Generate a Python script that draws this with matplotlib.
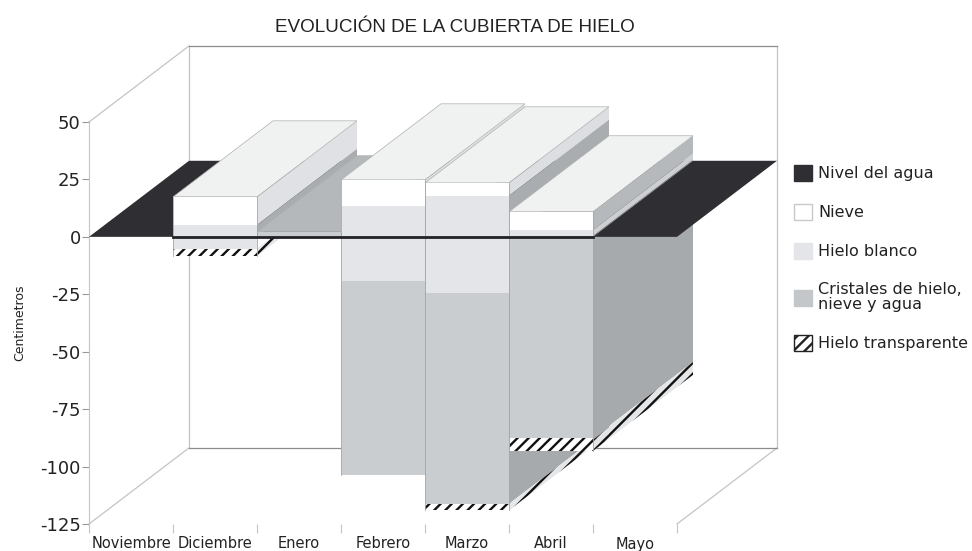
import matplotlib
matplotlib.use('Agg')
import matplotlib.pyplot as plt
from matplotlib.patches import Patch, Polygon

plt.rcParams['hatch.linewidth'] = 1.7

months = ['Noviembre', 'Diciembre', 'Enero', 'Febrero', 'Marzo', 'Abril', 'Mayo']
y_ticks = [50, 25, 0, -25, -50, -75, -100, -125]

# bar slot (month index), then layer limits from top to bottom, cm
slots = [1, 2, 3, 4, 5]
nieve_top = [17.4, 2.2, 24.8, 23.5, 10.9]
hielo_top = [5.2, 2.2, 13.5, 17.9, 3.0]
cristal_top = [-5.2, 2.2, -19.2, -24.4, 0.4]
transp_top = [-5.2, 0.0, -103.7, -116.2, -87.6]
bottom = [-8.3, 0.0, -103.7, -119.0, -93.2]

# oblique depth of the box, in month and cm units
DX = 100 / 84
DY = 76 / 2.295

C_WATER = '#2e2e33'
C_LINE = '#c4c4c4'
C_TOP = '#f0f1f1'
C_ENERO_TOP = '#b4b8ba'
C_HATCH_SIDE = '#e4e6e8'
FRONT_NIEVE = '#ffffff'
FRONT_HIELO = '#e3e5e8'
FRONT_CRISTAL = '#c9cdd0'
SIDE_CRISTAL = '#a7aaad'
side_nieve = ['#dfe1e4', '#dfe1e4', '#dfe1e4', '#dcdee1', '#b6b9bb']
side_hielo = ['#a9adaf', '#a9adaf', '#c8cbcd', '#a9adaf', '#cdcfd1']


def make_poly(ax, pts, color, z, hatch=None):
    # hatch takes its colour from the edge, lw 0 keeps the border off
    ec = '#111111' if hatch else 'none'
    ax.add_patch(Polygon(pts, fc=color, ec=ec, lw=0, hatch=hatch, clip_on=False, zorder=z))


def front(ax, x, top, low, color, z, hatch=None):
    make_poly(ax, [(x, top), (x + 1, top), (x + 1, low), (x, low)], color, z, hatch)


def side(ax, x, top, low, color, z, hatch=None):
    make_poly(ax, [(x, top), (x + DX, top + DY), (x + DX, low + DY), (x, low)], color, z, hatch)


def top_face(ax, x, top, color, z):
    ax.add_patch(Polygon([(x, top), (x + 1, top), (x + 1 + DX, top + DY), (x + DX, top + DY)],
                         fc=color, ec='#b0b0b0', lw=0.5, clip_on=False, zorder=z))


fig = plt.figure(figsize=(9.72, 5.51), dpi=100)
ax = fig.add_axes([89 / 972, (551 - 524) / 551, 588 / 972, 402 / 551])
ax.set_xlim(0, 7)
ax.set_ylim(-125, 50)
ax.patch.set_visible(False)

# box walls and floor
wall = dict(color=C_LINE, lw=0.9, clip_on=False, zorder=1)
ax.plot([0, DX], [50, 50 + DY], **wall)
ax.plot([0, DX], [-125, -125 + DY], **wall)
ax.plot([7, 7 + DX], [-125, -125 + DY], **wall)
ax.plot([DX, DX], [-125 + DY, 50 + DY], **wall)
ax.plot([7 + DX, 7 + DX], [-125 + DY, 50 + DY], **wall)
ax.plot([DX, 7 + DX], [-125 + DY, -125 + DY], color='#8c8c8c', lw=0.9, clip_on=False, zorder=1)
ax.plot([DX, 7 + DX], [50 + DY, 50 + DY], color='#8c8c8c', lw=0.9, clip_on=False, zorder=1)

# everything under the water first, then the water sheet, then what is above it
for i in range(len(slots) - 1, -1, -1):
    x = slots[i]
    z = 4 + (5 - i) * 0.01
    low_c = min(cristal_top[i], 0)
    if low_c > transp_top[i]:
        side(ax, x + 1, low_c, transp_top[i], SIDE_CRISTAL, z)
    if transp_top[i] > bottom[i]:
        side(ax, x + 1, transp_top[i], bottom[i], C_HATCH_SIDE, z, hatch='///')

make_poly(ax, [(0, 0), (7, 0), (7 + DX, DY), (DX, DY)], C_WATER, 5)

for i in range(len(slots)):
    x = slots[i]
    z = 6 + i * 0.1
    if nieve_top[i] > hielo_top[i]:
        side(ax, x + 1, nieve_top[i], hielo_top[i], side_nieve[i], z)
    if hielo_top[i] > max(cristal_top[i], 0):
        side(ax, x + 1, hielo_top[i], max(cristal_top[i], 0), side_hielo[i], z)
    if cristal_top[i] > 0:
        side(ax, x + 1, cristal_top[i], 0, SIDE_CRISTAL, z)

for i in range(len(slots)):
    x = slots[i]
    z = 8 + i * 0.1
    color = C_ENERO_TOP if nieve_top[i] < 3 else C_TOP
    top_face(ax, x, nieve_top[i], color, z)

for i in range(len(slots)):
    x = slots[i]
    z = 10
    if nieve_top[i] > hielo_top[i]:
        front(ax, x, nieve_top[i], hielo_top[i], FRONT_NIEVE, z)
    if hielo_top[i] > cristal_top[i]:
        front(ax, x, hielo_top[i], cristal_top[i], FRONT_HIELO, z)
    if cristal_top[i] > transp_top[i]:
        front(ax, x, cristal_top[i], transp_top[i], FRONT_CRISTAL, z)
    if transp_top[i] > bottom[i]:
        front(ax, x, transp_top[i], bottom[i], '#ffffff', z, hatch='///')
    # bar borders
    ax.plot([x, x], [bottom[i], nieve_top[i]], color='#a8a8a8', lw=0.6, clip_on=False, zorder=11)
    ax.plot([x + 1, x + 1], [bottom[i], nieve_top[i]], color='#a8a8a8', lw=0.6, clip_on=False, zorder=11)

ax.plot([1, 6], [0, 0], color='#222226', lw=2, clip_on=False, zorder=12)

ax.spines[['top', 'right', 'bottom']].set_visible(False)
ax.spines['left'].set_color(C_LINE)
ax.spines['left'].set_bounds(-125, 50)
ax.set_yticks(y_ticks)
ax.set_yticklabels(y_ticks, fontsize=13, color='#222222')
ax.tick_params(axis='y', length=5, width=0.8, color='#999999', pad=1)
ax.set_xticks(range(8))
ax.set_xticklabels([])
ax.set_xticks([i + 0.5 for i in range(7)], minor=True)
ax.set_xticklabels(months, minor=True, fontsize=10.5, color='#222222')
ax.tick_params(axis='x', which='major', length=6.5, width=0.8, color=C_LINE, pad=2)
ax.tick_params(axis='x', which='minor', length=0, pad=9)
ax.set_ylabel('Centimetros', fontsize=9, color='#222222', labelpad=10, y=0.5)

fig.text(455 / 972, 1 - 27 / 551, 'EVOLUCIÓN DE LA CUBIERTA DE HIELO', ha='center', va='center',
         fontsize=13.6, family='Liberation Sans', color='#222222')

handles = [
    Patch(fc=C_WATER, ec=C_WATER, label='Nivel del agua'),
    Patch(fc='#ffffff', ec='#c8c8c8', label='Nieve'),
    Patch(fc='#e3e5e8', ec='#e3e5e8', label='Hielo blanco'),
    Patch(fc='#c4c7ca', ec='#c4c7ca', label='Cristales de hielo,\nnieve y agua'),
    Patch(fc='#ffffff', ec='#222222', hatch='///', label='Hielo transparente'),
]
leg = fig.legend(handles=handles, loc='upper left', bbox_to_anchor=(794 / 972, 1 - 165 / 551), frameon=False,
                 fontsize=11.5, handlelength=1.15, handleheight=1.15, handletextpad=0.35,
                 labelspacing=1.42, labelcolor='#222222', borderpad=0, borderaxespad=0)
for t in leg.get_texts():
    t.set_linespacing(1.0)

fig.savefig('out.png', dpi=100)
